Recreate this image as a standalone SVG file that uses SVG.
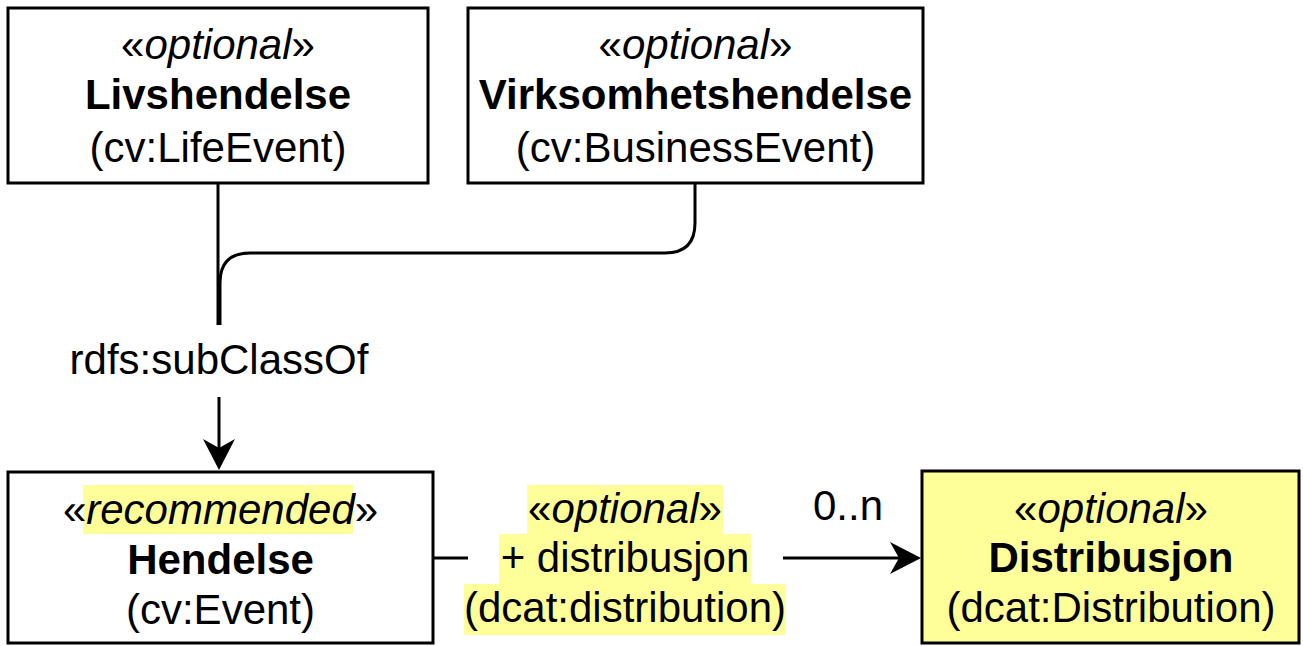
<svg xmlns="http://www.w3.org/2000/svg" width="1303" height="646" viewBox="0 0 1303 646">
<style>
.box{fill:#ffffff;stroke:#000000;stroke-width:3}
.yel{fill:#ffff99;stroke:#000000;stroke-width:3}
.hl{fill:#ffff99;stroke:none}
text{font-family:"Liberation Sans",Arial,sans-serif;font-size:42px;fill:#000000;text-anchor:middle}
.b{font-weight:bold}
.i{font-style:italic}
.ln{fill:none;stroke:#000000;stroke-width:3}
</style>
<defs>
<marker id="arr" viewBox="0 0 31 34" refX="21" refY="17" markerWidth="31" markerHeight="34" markerUnits="userSpaceOnUse" orient="auto">
<path d="M31,17 L0,1 L9,17 L0,33 Z" fill="#000000"/>
</marker>
</defs>
<rect width="1303" height="646" fill="#ffffff"/>
<g id="connectors">
<path class="ln" d="M218,183 L218,325"/>
<path class="ln" d="M695,183 L695,223 Q695,253 665,253 L250,253 Q220,253 220,283 L220,325"/>
<path class="ln" d="M219,397 L219,460" marker-end="url(#arr)"/>
<text x="219" y="374">rdfs:subClassOf</text>
<path class="ln" d="M433,558 L468,558"/>
<path class="ln" d="M783,558 L911,558" marker-end="url(#arr)"/>
<rect class="hl" x="527" y="485" width="196" height="49"/>
<rect class="hl" x="499" y="534" width="252" height="50"/>
<rect class="hl" x="464" y="584" width="322" height="51"/>
<text x="625" y="523">«<tspan class="i">optional</tspan>»</text>
<text x="625" y="572">+ distribusjon</text>
<text x="625" y="622">(dcat:distribution)</text>
<text x="848" y="520">0..n</text>
</g>
<g id="livshendelse">
<rect class="box" x="8" y="8" width="420" height="175"/>
<text x="218" y="59">«<tspan class="i">optional</tspan>»</text>
<text class="b" x="218" y="109">Livshendelse</text>
<text x="218" y="162">(cv:LifeEvent)</text>
</g>
<g id="virksomhetshendelse">
<rect class="box" x="468" y="8" width="455" height="175"/>
<text x="695.5" y="59">«<tspan class="i">optional</tspan>»</text>
<text class="b" x="695.5" y="109">Virksomhetshendelse</text>
<text x="695.5" y="162">(cv:BusinessEvent)</text>
</g>
<g id="hendelse">
<rect class="box" x="8" y="472" width="425" height="171"/>
<rect class="hl" x="83" y="485" width="270" height="49"/>
<text x="220.5" y="524">«<tspan class="i">recommended</tspan>»</text>
<text class="b" x="220.5" y="574">Hendelse</text>
<text x="220.5" y="624">(cv:Event)</text>
</g>
<g id="distribusjon">
<rect class="yel" x="922" y="471" width="377" height="172"/>
<text x="1111" y="523">«<tspan class="i">optional</tspan>»</text>
<text class="b" x="1111" y="572">Distribusjon</text>
<text x="1111" y="622">(dcat:Distribution)</text>
</g>
</svg>
